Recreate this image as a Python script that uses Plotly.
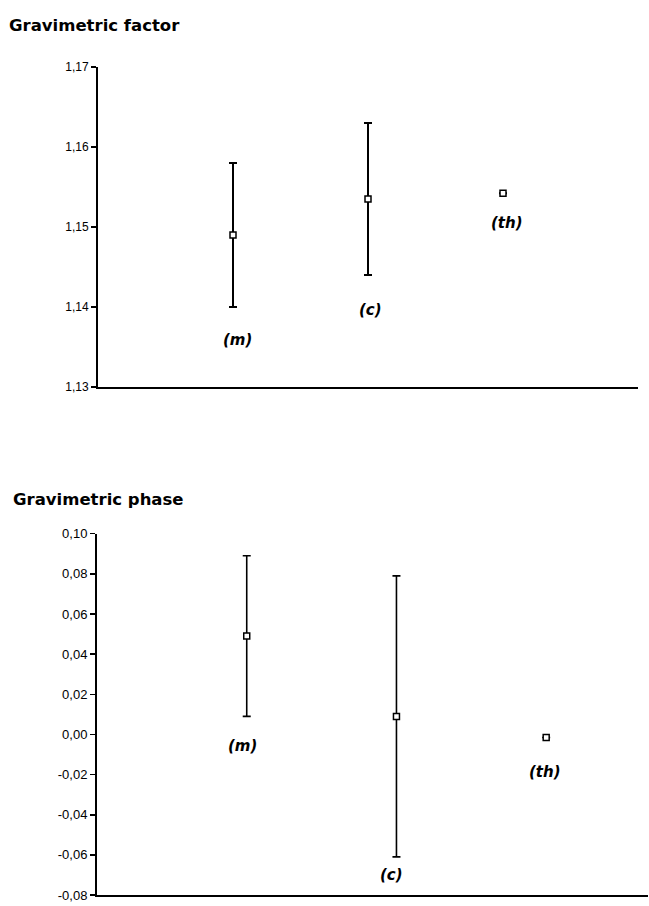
import plotly.graph_objects as go

# ---- data ----
categories = ["(m)", "(c)", "(th)"]
cat_x = [1, 2, 3]

factor_values = [1.149, 1.1535, 1.1542]
factor_err = [0.009, 0.0095, 0.0]
factor_label_y = [1.1359, 1.1396, 1.1505]
factor_label_x = [1.03, 2.02, 3.03]
factor_ticks = [1.13, 1.14, 1.15, 1.16, 1.17]
factor_ticktext = ["1,13", "1,14", "1,15", "1,16", "1,17"]

phase_values = [0.049, 0.009, -0.0015]
phase_err = [0.040, 0.070, 0.0]
phase_label_y = [-0.0057, -0.0700, -0.0188]
phase_label_x = [0.97, 1.965, 2.99]
phase_ticks = [-0.08, -0.06, -0.04, -0.02, 0.00, 0.02, 0.04, 0.06, 0.08, 0.10]
phase_ticktext = ["-0,08", "-0,06", "-0,04", "-0,02", "0,00", "0,02", "0,04", "0,06", "0,08", "0,10"]

W, H = 649, 906

fig = go.Figure()

fig.add_trace(go.Scatter(
    x=cat_x, y=factor_values, mode="markers",
    marker=dict(symbol="square", size=6, color="white", line=dict(color="black", width=1.5)),
    error_y=dict(type="data", array=factor_err, visible=True, color="black", thickness=2, width=4),
    xaxis="x", yaxis="y", showlegend=False, hoverinfo="skip"))

fig.add_trace(go.Scatter(
    x=cat_x, y=phase_values, mode="markers",
    marker=dict(symbol="square", size=6, color="white", line=dict(color="black", width=1.5)),
    error_y=dict(type="data", array=phase_err, visible=True, color="black", thickness=1.6, width=4),
    xaxis="x2", yaxis="y2", showlegend=False, hoverinfo="skip"))

annotations = []
for lx, ly, t in zip(factor_label_x, factor_label_y, categories):
    annotations.append(dict(x=lx, y=ly, xref="x", yref="y", text="<b><i>%s</i></b>" % t,
                            showarrow=False, font=dict(family="DejaVu Sans", size=15, color="black")))
for lx, ly, t in zip(phase_label_x, phase_label_y, categories):
    annotations.append(dict(x=lx, y=ly, xref="x2", yref="y2", text="<b><i>%s</i></b>" % t,
                            showarrow=False, font=dict(family="DejaVu Sans", size=15, color="black")))

annotations.append(dict(x=7 / W, y=1 - 19 / H, xref="paper", yref="paper", xanchor="left", yanchor="middle",
                        text="<b>Gravimetric factor</b>", showarrow=False,
                        font=dict(family="DejaVu Sans", size=16.5, color="black")))
annotations.append(dict(x=11 / W, y=1 - 500.5 / H, xref="paper", yref="paper", xanchor="left", yanchor="middle",
                        text="<b>Gravimetric phase</b>", showarrow=False,
                        font=dict(family="DejaVu Sans", size=16.5, color="black")))

axis_common = dict(showgrid=False, zeroline=False, showline=True, linecolor="black")

fig.update_layout(
    width=W, height=H,
    margin=dict(l=0, r=0, t=0, b=0),
    paper_bgcolor="white", plot_bgcolor="white",
    annotations=annotations,
    xaxis=dict(domain=[98 / W, 638 / W], range=[0, 4], showticklabels=False, ticks="",
               linewidth=2, anchor="y", **axis_common),
    yaxis=dict(domain=[1 - 385.8 / H, 1 - 61 / H], range=[1.13, 1.17], tickvals=factor_ticks,
               ticktext=factor_ticktext, ticks="outside", ticklen=5, tickwidth=1.5, tickcolor="black",
               linewidth=2, anchor="x",
               tickfont=dict(family="Liberation Sans", size=12, color="black"), **axis_common),
    xaxis2=dict(domain=[97 / W, 648 / W], range=[0, 3.68], showticklabels=False, ticks="",
                linewidth=2, anchor="y2", **axis_common),
    yaxis2=dict(domain=[1 - 902 / H, 1 - 535 / H], range=[-0.08, 0.10], tickvals=phase_ticks,
                ticktext=phase_ticktext, ticks="outside", ticklen=5, tickwidth=1.5, tickcolor="black",
                linewidth=2, anchor="x2",
                tickfont=dict(family="Liberation Sans", size=13, color="black"), **axis_common),
)

fig.write_html("out.html", config={"displayModeBar": False, "staticPlot": True},
               post_script="document.body.style.margin='0';document.body.style.overflow='hidden';")
